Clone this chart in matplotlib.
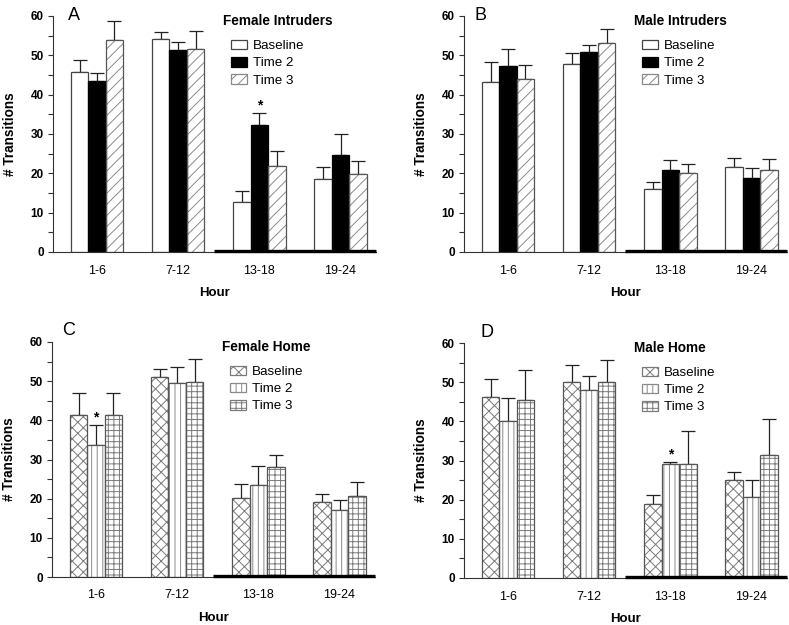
import numpy as np
import matplotlib
matplotlib.use("Agg")
import matplotlib.pyplot as plt
import matplotlib.patches as mpatches

plt.rcParams['font.family'] = ['Liberation Sans', 'DejaVu Sans']
plt.rcParams['hatch.linewidth'] = 0.7

# Data (mean and upper SEM per hour block)
hours = ['1-6', '7-12', '13-18', '19-24']
conditions = ['Baseline', 'Time 2', 'Time 3']

fi_means = [[45.7, 54.1, 12.6, 18.5], [43.6, 51.4, 32.2, 24.6], [53.9, 51.5, 21.9, 19.8]]
fi_sems = [[3.1, 1.8, 3.0, 3.2], [1.8, 1.9, 3.2, 5.3], [4.9, 4.7, 3.8, 3.4]]

mi_means = [[43.2, 47.9, 16.0, 21.7], [47.2, 50.75, 20.8, 18.9], [44.1, 53.1, 20.1, 20.8]]
mi_sems = [[5.1, 2.7, 1.7, 2.3], [4.4, 1.95, 2.5, 2.5], [3.5, 3.65, 2.4, 2.9]]

fh_means = [[41.4, 51.1, 20.2, 19.1], [33.8, 49.6, 23.4, 17.2], [41.4, 49.8, 28.0, 20.8]]
fh_sems = [[5.7, 1.9, 3.6, 2.2], [5.0, 4.0, 4.9, 2.4], [5.7, 5.8, 3.2, 3.5]]

mh_means = [[46.1, 50.1, 19.0, 24.9], [40.1, 48.0, 29.1, 20.8], [45.4, 50.1, 29.2, 31.4]]
mh_sems = [[4.6, 4.3, 2.3, 2.2], [5.9, 3.7, 0.6, 4.3], [7.7, 5.5, 8.3, 9.2]]

# (hour index, condition index) marked with *
fi_star = (2, 1)
mi_star = None
fh_star = (0, 1)
mh_star = (2, 1)

dark_start = 1.445  # dark phase bar on the x axis

# styles: (facecolor, hatch, hatch colour, edge colour)
intruder_style = [('white', None, '#444444', '#444444'),
                  ('black', None, 'black', 'black'),
                  ('white', '///', '#8a8a8a', '#555555')]
home_style = [('white', 'xxx', '#7a7a7a', '#555555'),
              ('white', '|||', '#8a8a8a', '#555555'),
              ('white', '+++', '#7a7a7a', '#555555')]

W, H = 789, 625
fig = plt.figure(figsize=(W / 100, H / 100), dpi=100)

axes_px = {'A': (53, 16, 252), 'B': (464, 16, 252), 'C': (52, 342, 577), 'D': (464, 343, 578)}
ax_w = 323


def make_ax(key):
    left, top, bottom = axes_px[key]
    return fig.add_axes([left / W, 1 - bottom / H, ax_w / W, (bottom - top) / H])


def draw_panel(ax, title, means, sems, styles, star):
    x = np.arange(len(hours))
    width = 0.215
    for i, (fc, hatch, hc, ec) in enumerate(styles):
        pos = x + (i - 1) * width
        ax.bar(pos, means[i], width, color=fc, hatch=hatch, edgecolor=hc, linewidth=0, zorder=2)
        ax.bar(pos, means[i], width, facecolor='none', edgecolor=ec, linewidth=0.9, zorder=3)
        ax.errorbar(pos, means[i], yerr=[np.zeros(len(hours)), sems[i]], fmt='none',
                    ecolor='#222222', elinewidth=0.9, capsize=5, capthick=0.9, zorder=1)
    if star is not None:
        h, c = star
        ax.text(x[h] + (c - 1) * width, means[c][h] + sems[c][h] + 0.9, '*',
                ha='center', va='baseline', fontsize=10, fontweight='bold')

    xmax = 3.437
    ax.set_xlim(-0.542, xmax)
    ax.set_ylim(0, 60)
    ax.plot([dark_start, xmax], [0.35, 0.35], color='black', lw=2.4,
            solid_capstyle='butt', zorder=5, clip_on=False)

    ax.set_xticks(x)
    ax.set_xticklabels(hours, fontsize=9)
    ax.tick_params(axis='x', length=0, pad=9)
    ax.set_yticks(np.arange(0, 61, 10))
    ax.set_yticks(np.arange(5, 60, 10), minor=True)
    ax.tick_params(axis='y', which='both', length=3.5, width=0.8, color='#333333',
                   pad=3, labelsize=8.5)
    for lab in ax.get_yticklabels():
        lab.set_fontweight('bold')

    for s in ['top', 'right']:
        ax.spines[s].set_visible(False)
    for s in ['left', 'bottom']:
        ax.spines[s].set_color('#333333')
        ax.spines[s].set_linewidth(0.8)

    ax.set_ylabel('# Transitions', fontsize=9.8, fontweight='bold')
    ax.yaxis.set_label_coords(-0.113, 0.5)
    ax.set_xlabel('Hour', fontsize=9.5, fontweight='bold', va='top')
    ax.xaxis.set_label_coords(0.5, -0.15)

    ax.text(0.525, 0.979, title, transform=ax.transAxes, ha='left', va='center',
            fontsize=9.8, fontweight='bold')
    handles = [mpatches.Patch(facecolor=fc, hatch=hatch, edgecolor=hc if hatch else ec, linewidth=0.9)
               for fc, hatch, hc, ec in styles]
    ax.legend(handles, conditions, loc='upper left', bbox_to_anchor=(0.552, 0.90),
              frameon=False, fontsize=9.6, borderpad=0, borderaxespad=0,
              handlelength=1.2, handleheight=0.75, handletextpad=0.45, labelspacing=0.35)


ax_a = make_ax('A')
draw_panel(ax_a, 'Female Intruders', fi_means, fi_sems, intruder_style, fi_star)
ax_b = make_ax('B')
draw_panel(ax_b, 'Male Intruders', mi_means, mi_sems, intruder_style, mi_star)
ax_c = make_ax('C')
draw_panel(ax_c, 'Female Home', fh_means, fh_sems, home_style, fh_star)
ax_d = make_ax('D')
draw_panel(ax_d, 'Male Home', mh_means, mh_sems, home_style, mh_star)

letters = [('A', 68, 20), ('B', 474, 20), ('C', 62, 335), ('D', 480, 337)]
for letter, lx, ly in letters:
    fig.text(lx / W, 1 - ly / H, letter, fontsize=13, ha='left', va='baseline')

fig.savefig('out.png', dpi=100)
